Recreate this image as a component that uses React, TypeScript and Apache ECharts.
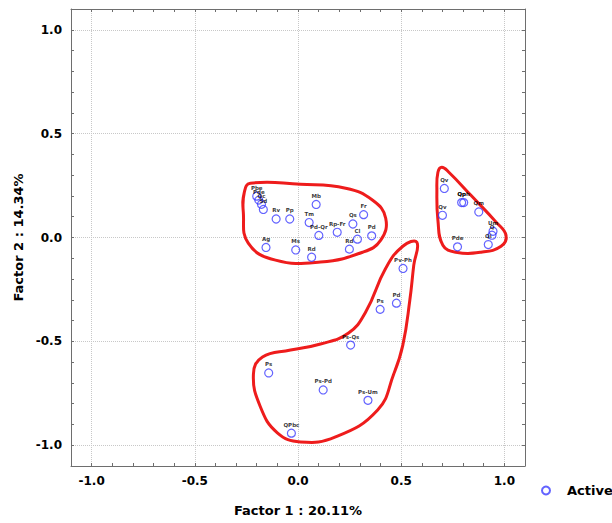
import React, { useEffect, useRef } from "react";
import * as echarts from "echarts";

// Point labels and factor coordinates (Factor 1, Factor 2)
const pointNames = [
  "Pbe", "Pde", "Qc", "Sd", "Rv", "Pp", "Mb", "Tm", "Pd-Qr", "Rp-Fr", "Qs", "Fr",
  "Cl", "Pd", "Rd", "Ag", "Ms", "Rd",
  "Qv", "Qv", "Qp", "Qph", "Qm", "Um", "Q", "Qi", "Pde",
  "Pv-Ph", "Pd", "Ps", "Ps-Qs", "Ps", "Ps-Pd", "Ps-Um", "QPbc",
];
const factor1 = [
  -0.2, -0.19, -0.177, -0.168, -0.106, -0.04, 0.088, 0.054, 0.101, 0.19, 0.266, 0.318,
  0.288, 0.357, 0.249, -0.155, -0.011, 0.066,
  0.709, 0.7, 0.793, 0.803, 0.876, 0.945, 0.94, 0.922, 0.773,
  0.509, 0.477, 0.398, 0.255, -0.142, 0.122, 0.339, -0.032,
];
const factor2 = [
  0.199, 0.18, 0.16, 0.135, 0.089, 0.089, 0.159, 0.072, 0.01, 0.025, 0.065, 0.11,
  -0.008, 0.008, -0.056, -0.048, -0.06, -0.095,
  0.236, 0.107, 0.168, 0.168, 0.123, 0.03, 0.011, -0.034, -0.045,
  -0.149, -0.316, -0.346, -0.518, -0.652, -0.734, -0.784, -0.942,
];

// Hand-drawn group outlines (data coordinates)
const loopLeft = [
  [-0.231, 0.261], [0.012, 0.256], [0.231, 0.237], [0.362, 0.179], [0.425, 0.093],
  [0.401, -0.013], [0.313, -0.071], [0.109, -0.118], [-0.109, -0.109], [-0.241, -0.027],
  [-0.265, 0.122], [-0.26, 0.218],
];
const loopRight = [
  [0.697, 0.338], [0.731, 0.314], [0.838, 0.203], [0.96, 0.074], [1.008, 0.011],
  [0.984, -0.042], [0.887, -0.071], [0.765, -0.071], [0.702, -0.037], [0.678, 0.083],
  [0.673, 0.227], [0.678, 0.314],
];
const loopBottom = [
  [0.576, -0.023], [0.561, -0.133], [0.542, -0.301], [0.508, -0.518], [0.464, -0.657],
  [0.386, -0.83], [0.182, -0.96], [0.012, -0.984], [-0.1, -0.94], [-0.182, -0.816],
  [-0.216, -0.657], [-0.172, -0.575], [-0.036, -0.542], [0.109, -0.513], [0.245, -0.46],
  [0.328, -0.359], [0.425, -0.148], [0.508, -0.042],
];
const loops = [loopLeft, loopRight, loopBottom];

const tickValues = [
  -1.0, -0.9, -0.8, -0.7, -0.6, -0.5, -0.4, -0.3, -0.2, -0.1, 0.0,
  0.1, 0.2, 0.3, 0.4, 0.5, 0.6, 0.7, 0.8, 0.9, 1.0,
];
const labelValues = [-1.0, -0.5, 0.0, 0.5, 1.0];
const xName = "Factor 1 : 20.11%";
const yName = "Factor 2 : 14.34%";
const seriesName = "Active";

const FONT = "DejaVu Sans";
const FRAME = "#6e6e6e";

export default function App() {
  const ref = useRef<HTMLDivElement>(null);
  useEffect(() => {
    if (!ref.current) return;
    document.body.style.margin = "0";
    const chart = echarts.init(ref.current, null, { renderer: "svg" });
    const axisCommon = { type: "value", min: -1.1, max: 1.1 };
    const tickAxis = (position: string, labels: boolean, name?: string, extra?: any) => ({
      ...axisCommon,
      position,
      axisLine: { show: true, onZero: false, lineStyle: { color: FRAME, width: 1 } },
      axisTick: {
        show: true,
        inside: true,
        length: 3,
        customValues: tickValues,
        lineStyle: { color: FRAME },
      },
      axisLabel: labels
        ? {
            show: true,
            customValues: labelValues,
            formatter: (v: number) => v.toFixed(1),
            color: "#000",
            fontFamily: FONT,
            fontWeight: "bold",
            fontSize: 12,
            margin: 9,
          }
        : { show: false },
      splitLine: { show: false },
      ...(name ? extra : {}),
      name: name || "",
    });
    const gridAxis = (position: string) => ({
      ...axisCommon,
      position,
      axisLine: { show: false },
      axisTick: { show: false, customValues: labelValues },
      axisLabel: { show: false },
      splitLine: { show: true, lineStyle: { color: "#c8c8c8", type: "dotted", width: 1 } },
    });
    const nameStyle = { color: "#000", fontFamily: FONT, fontWeight: "bold", fontSize: 13 };
    chart.setOption({
      animation: false,
      backgroundColor: "#fff",
      grid: { left: 71, top: 9, width: 454, height: 457 },
      xAxis: [
        tickAxis("bottom", true, xName, {
          nameLocation: "middle",
          nameGap: 38,
          nameTextStyle: nameStyle,
        }),
        tickAxis("top", false),
        gridAxis("bottom"),
      ],
      yAxis: [
        tickAxis("left", true, yName, {
          nameLocation: "middle",
          nameGap: 39,
          nameTextStyle: nameStyle,
        }),
        tickAxis("right", false),
        gridAxis("left"),
      ],
      legend: {
        data: [seriesName],
        left: 541,
        top: 484,
        padding: 0,
        itemWidth: 32,
        itemHeight: 8,
        icon: "circle",
        textStyle: { color: "#000", fontFamily: FONT, fontWeight: "bold", fontSize: 13 },
      },
      series: [
        {
          type: "custom",
          name: "groups",
          xAxisIndex: 0,
          yAxisIndex: 0,
          z: 1,
          silent: true,
          data: loops.map((l) => l[0]),
          renderItem: (params: any, api: any) => {
            const loop = loops[params.dataIndex];
            const pts = loop.map((p) => api.coord(p));
            return {
              type: "polygon",
              shape: { points: pts, smooth: 0.45 },
              style: { fill: "none", stroke: "#ee1c1c", lineWidth: 3 },
            };
          },
        },
        {
          type: "scatter",
          name: seriesName,
          xAxisIndex: 0,
          yAxisIndex: 0,
          z: 3,
          symbol: "circle",
          symbolSize: 8,
          itemStyle: { color: "rgba(255,255,255,0)", borderColor: "#3c3cff", borderWidth: 1.2 },
          label: {
            show: true,
            position: "top",
            distance: 1,
            formatter: (p: any) => pointNames[p.dataIndex],
            color: "#000",
            fontFamily: FONT,
            fontWeight: "bold",
            fontSize: 5.5,
          },
          labelLayout: { hideOverlap: false },
          data: factor1.map((x, i) => [x, factor2[i]]),
        },
      ],
    });
    return () => chart.dispose();
  }, []);
  return <div ref={ref} style={{ width: 612, height: 523 }} />;
}
